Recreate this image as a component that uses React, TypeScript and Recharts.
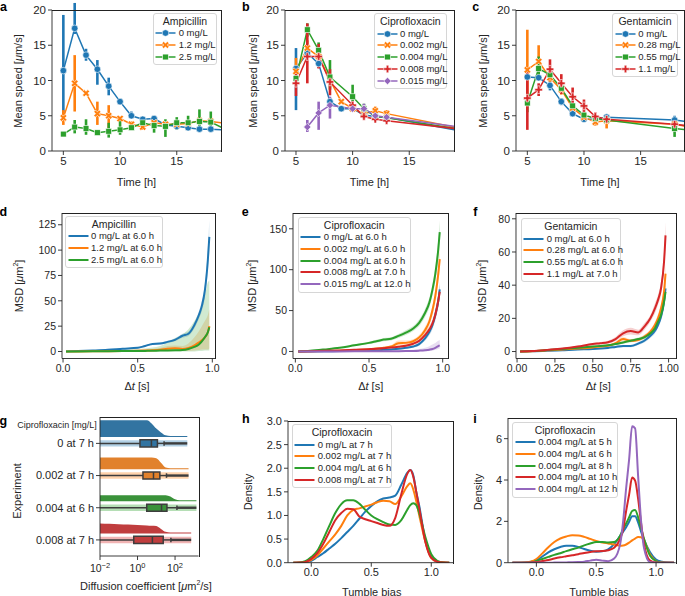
import React from "react";
import {
  Area,
  ComposedChart,
  ErrorBar,
  Line,
  ReferenceArea,
  ReferenceLine,
  XAxis,
  YAxis,
} from "recharts";

const FONT = '"Liberation Sans", Arial, Helvetica, sans-serif';
const INK = "#262626";
const BLUE = "#1f77b4";
const ORANGE = "#ff7f0e";
const GREEN = "#2ca02c";
const RED = "#d62728";
const PURPLE = "#9467bd";

// ---- a-c: mean speed over time (hours), value + error bar bounds
const HOURS_A = [5, 6, 7, 8, 9, 10, 11, 12, 13, 14, 15, 16, 17, 18, 19];
const AMP_0 = [11.4, 17.4, 13.6, 11.6, 9.2, 7.0, 5.0, 4.5, 4.6, 3.7, 3.5, 3.3, 3.1, 3.1, 3.0];
const AMP_0_LO = [5.2, 16.6, 12.8, 9.4, 7.9, 6.6, 4.6, 4.2, 4.3, 3.4, 3.2, 3.0, 2.9, 2.9, null];
const AMP_0_HI = [19.3, 21.0, 14.5, 12.9, 10.4, 7.4, 5.6, 4.8, 4.9, 4.0, 3.9, 3.6, 3.3, 3.3, null];
const AMP_1 = [4.7, 9.6, 8.2, 5.3, 5.0, 4.6, 3.8, 3.4, 4.0, 3.8, 3.8, 3.9, 4.3, 4.2, 4.0];
const AMP_1_LO = [3.7, 5.6, 7.9, 3.7, 3.2, 4.4, 3.5, 3.0, 3.7, 3.5, 3.5, 3.6, 3.9, 3.9, null];
const AMP_1_HI = [5.8, 13.6, 8.5, 7.0, 6.5, 4.9, 4.2, 3.8, 4.3, 4.1, 4.2, 4.3, 4.8, 4.6, null];
const AMP_2 = [2.4, 3.4, 3.2, 2.6, 2.8, 3.0, 3.3, 4.0, 3.6, 3.5, 4.0, 4.0, 4.2, 4.1, 3.3];
const AMP_2_LO = [2.2, 2.5, 2.3, 2.3, 1.9, 2.3, 3.0, 3.3, 2.6, 2.0, 3.0, 3.0, 3.0, 3.2, null];
const AMP_2_HI = [2.6, 4.4, 4.5, 2.9, 4.0, 4.6, 3.6, 4.8, 4.5, 4.5, 4.8, 5.0, 5.9, 5.6, null];

const HOURS_B = [5, 6, 7, 8, 9, 10, 11, 12, 13, 19];
const CIP_0 = [11.7, 13.9, 12.4, 7.0, 6.0, 6.0, 5.1, 4.9, 4.8, 3.0];
const CIP_0_LO = [5.8, 13.3, 11.8, 6.5, 5.8, 5.6, 4.8, 4.6, 4.5, null];
const CIP_0_HI = [14.6, 14.5, 13.0, 7.5, 6.2, 6.4, 5.4, 5.2, 5.1, null];
const CIP_1 = [11.3, 14.6, 13.4, 10.1, 7.0, 6.0, 5.3, 5.7, 5.3, 3.4];
const CIP_1_LO = [9.3, 13.5, 12.6, 9.3, 6.7, 5.6, 5.0, 5.1, 4.9, null];
const CIP_1_HI = [13.2, 15.7, 14.2, 11.0, 7.3, 6.4, 5.7, 6.3, 5.8, null];
const CIP_2 = [10.3, 17.2, 14.3, 10.5, null, 7.7, 6.0, 4.9, 4.7, 3.2];
const CIP_2_LO = [9.8, 16.2, 13.2, 8.7, null, 6.4, 5.3, 4.6, 4.4, null];
const CIP_2_HI = [10.8, 18.1, 15.4, 12.9, null, 9.4, 6.7, 5.2, 5.0, null];
const CIP_3 = [9.6, 13.4, 13.4, 9.8, null, 6.5, 4.9, 4.5, 4.3, 3.2];
const CIP_3_LO = [7.8, 9.6, 11.7, 7.9, null, 5.9, 4.6, 4.2, 4.0, null];
const CIP_3_HI = [11.4, 18.1, 15.2, 11.6, null, 7.1, 5.2, 4.8, 4.6, null];
const CIP_4 = [null, 3.4, 5.4, 6.5, null, 6.0, 6.0, 5.0, 4.8, 3.5];
const CIP_4_LO = [null, 2.7, 3.0, 4.6, null, 5.6, 5.4, 4.7, 4.5, null];
const CIP_4_HI = [null, 4.4, 7.0, 7.7, null, 6.4, 6.7, 5.3, 5.1, null];

const HOURS_C = [5, 6, 7, 8, 9, 10, 11, 12, 18, 19];
const GEN_0 = [10.5, 10.4, 9.3, 7.0, 5.3, 4.5, 4.5, 4.8, 4.4, 4.2];
const GEN_0_LO = [10.2, 10.0, 8.6, 6.5, 4.9, 4.2, 4.2, 4.5, 3.9, null];
const GEN_0_HI = [10.8, 10.8, 10.0, 7.5, 5.7, 4.8, 4.8, 5.1, 5.0, null];
const GEN_1 = [11.5, 12.7, 10.4, 8.7, 6.1, 4.8, 4.1, 4.3, 3.8, 3.5];
const GEN_1_LO = [6.3, 10.5, 9.8, 8.0, 5.6, 4.5, 3.6, 3.2, 3.4, null];
const GEN_1_HI = [17.2, 15.0, 11.0, 9.4, 6.6, 5.1, 4.6, 5.2, 4.2, null];
const GEN_2 = [6.8, 11.7, 10.8, 8.9, 6.4, 5.1, 4.6, 4.4, 3.2, 3.0];
const GEN_2_LO = [5.5, 10.0, 10.3, 8.4, 6.0, 4.8, 4.3, 4.1, 2.0, null];
const GEN_2_HI = [8.1, 13.4, 11.3, 9.4, 6.8, 5.4, 4.9, 4.7, 4.6, null];
const GEN_3 = [7.5, 8.7, 11.6, 9.6, 7.7, 6.4, 4.9, 4.5, 3.8, 3.6];
const GEN_3_LO = [3.0, 7.8, 10.2, 8.1, 6.5, 5.5, 4.4, 4.0, 3.4, null];
const GEN_3_HI = [11.5, 9.6, 13.0, 10.9, 9.0, 7.3, 5.5, 5.0, 4.2, null];

// ---- d-f: MSD vs lag time, mean + confidence band
const LAG = [0.02, 0.1, 0.2, 0.3, 0.4, 0.5, 0.55, 0.6, 0.65, 0.7, 0.75, 0.8, 0.84, 0.88, 0.91, 0.93, 0.95, 0.97, 0.98];
const D_0 = [0, 0.4, 1.0, 1.7, 2.7, 3.6, 5.5, 7.5, 7.8, 9.5, 11.5, 15.5, 17.5, 26, 36, 45, 60, 90, 113];
const D_0_LO = [0, 0.3, 0.8, 1.4, 2.3, 3.0, 4.7, 6.5, 6.8, 8.4, 10.0, 13.5, 15.3, 23, 32, 40, 53, 80, 98];
const D_0_HI = [0, 0.5, 1.2, 2.0, 3.1, 4.2, 6.3, 8.5, 8.8, 10.6, 13.0, 17.5, 19.7, 29, 40, 50, 67, 102, 130];
const D_1 = [0, 0.1, 0.2, 0.3, 0.5, 0.8, 1.0, 1.3, 1.8, 2.8, 3.2, 2.5, 3.5, 6, 9, 11, 14, 19, 25];
const D_1_LO = [0, 0, 0, 0, 0.1, 0.2, 0.3, 0.4, 0.5, 0.6, 0.7, 0.5, 0.5, 1, 1.5, 2, 2, 2, 3];
const D_1_HI = [0, 0.3, 0.5, 0.8, 1.2, 1.6, 2.0, 2.5, 3.5, 5.5, 6.0, 5.5, 8, 14, 20, 25, 30, 36, 42];
const D_2 = [0, 0.1, 0.2, 0.3, 0.4, 0.5, 0.6, 0.7, 0.9, 1.0, 1.2, 1.5, 2.5, 4.5, 7, 10, 14, 19, 24];
const D_2_LO = [0, 0, 0, 0, 0, 0, 0, 0, 0, 0, 0, 0, 0, 0, 0.5, 0.5, 1, 1, 1];
const D_2_HI = [0, 0.5, 1.0, 1.5, 2.0, 2.5, 3.0, 4.0, 5.5, 9, 13, 17, 22, 30, 38, 45, 55, 68, 70];

const E_0 = [0, 0.1, 0.3, 0.5, 0.8, 1.2, 1.5, 2.0, 2.5, 3.2, 4.5, 6.0, 9, 16, 24, 32, 45, 62, 76];
const E_0_LO = [0, 0, 0.2, 0.3, 0.5, 0.8, 1.0, 1.4, 1.8, 2.4, 3.4, 4.6, 7, 13, 20, 27, 38, 54, 66];
const E_0_HI = [0, 0.2, 0.4, 0.7, 1.1, 1.6, 2.0, 2.6, 3.2, 4.0, 5.6, 7.4, 11, 19, 28, 37, 52, 70, 86];
const E_1 = [0, 0.2, 0.6, 1.0, 1.8, 2.8, 3.5, 4.5, 6.0, 10.0, 10.5, 12.5, 17, 26, 37, 50, 68, 95, 113];
const E_1_LO = [0, 0.1, 0.4, 0.7, 1.3, 2.0, 2.6, 3.3, 4.5, 6.5, 8.0, 10.0, 14, 22, 32, 44, 60, 85, 100];
const E_1_HI = [0, 0.3, 0.8, 1.3, 2.3, 3.6, 4.4, 5.8, 7.8, 13.5, 13.5, 15, 20, 30, 42, 56, 76, 106, 128];
const E_2 = [0, 0.8, 2.5, 4.5, 7.5, 10.5, 12.5, 14.5, 15.5, 19, 23, 28, 35, 47, 60, 75, 95, 125, 146];
const E_2_LO = [0, 0.6, 2.0, 3.8, 6.5, 9.0, 10.8, 12.5, 13.5, 16.5, 20, 25, 31, 42, 54, 68, 86, 113, 132];
const E_2_HI = [0, 1.0, 3.0, 5.2, 8.5, 12.0, 14.2, 16.5, 17.5, 21.5, 26, 31, 39, 52, 66, 82, 104, 137, 160];
const E_3 = [0, 0.3, 0.8, 1.3, 2.0, 2.8, 3.3, 4.0, 4.8, 5.8, 7.0, 9.5, 13, 20, 27, 34, 45, 62, 73];
const E_3_LO = [0, 0.2, 0.6, 1.0, 1.6, 2.3, 2.7, 3.3, 4.0, 4.8, 5.8, 8.0, 11, 17, 23, 29, 39, 54, 64];
const E_3_HI = [0, 0.4, 1.0, 1.6, 2.4, 3.3, 3.9, 4.7, 5.6, 6.8, 8.2, 11.0, 15, 23, 31, 39, 51, 70, 82];
const E_4 = [0, 0, 0.05, 0.1, 0.15, 0.2, 0.25, 0.3, 0.35, 0.4, 0.5, 0.7, 1.0, 1.5, 2.2, 3.0, 4.5, 6.5, 7.5];
const E_4_LO = [0, 0, 0, 0, 0, 0, 0, 0, 0, 0, 0, 0, 0, 0.3, 0.7, 1.0, 2.0, 3.0, 3.5];
const E_4_HI = [0, 0.1, 0.2, 0.3, 0.4, 0.5, 0.6, 0.7, 0.9, 1.1, 1.5, 2.0, 3.0, 4.5, 6.5, 8.5, 10.5, 13, 14];

const F_0 = [0, 0.1, 0.4, 0.8, 1.2, 1.5, 1.8, 2.2, 2.8, 3.3, 3.3, 4.8, 6.5, 9.5, 12.5, 16, 21, 30, 38];
const F_0_LO = [0, 0, 0.3, 0.6, 0.9, 1.1, 1.4, 1.7, 2.2, 2.6, 2.6, 3.9, 5.4, 8.2, 10.8, 14, 18.5, 26.5, 34];
const F_0_HI = [0, 0.2, 0.5, 1.0, 1.5, 1.9, 2.2, 2.7, 3.4, 4.0, 4.0, 5.7, 7.6, 10.8, 14.2, 18, 23.5, 33.5, 42];
const F_1 = [0, 0.2, 0.7, 1.2, 1.8, 2.5, 3.0, 3.5, 5.0, 7.5, 6.5, 7.0, 9, 12, 16, 20, 26, 36, 47];
const F_1_LO = [0, 0.1, 0.5, 1.0, 1.5, 2.1, 2.5, 3.0, 4.2, 6.3, 5.6, 6.0, 7.8, 10.5, 14, 17.5, 23, 32, 42];
const F_1_HI = [0, 0.3, 0.9, 1.4, 2.1, 2.9, 3.5, 4.0, 5.8, 8.7, 7.4, 8.0, 10.2, 13.5, 18, 22.5, 29, 40, 53];
const F_2 = [0, 0.3, 0.9, 1.5, 2.3, 3.0, 3.4, 3.8, 4.5, 5.5, 6.5, 7.5, 8.5, 11, 14, 18, 22, 30, 36];
const F_2_LO = [0, 0.2, 0.7, 1.2, 1.9, 2.5, 2.9, 3.2, 3.8, 4.7, 5.6, 6.5, 7.4, 9.6, 12.3, 15.8, 19.5, 27, 32];
const F_2_HI = [0, 0.4, 1.1, 1.8, 2.7, 3.5, 3.9, 4.4, 5.2, 6.3, 7.4, 8.5, 9.6, 12.4, 15.7, 20.2, 24.5, 33, 40];
const F_3 = [0, 0.3, 1.0, 1.8, 3.0, 4.5, 5.0, 5.6, 7.5, 11, 12.3, 11.5, 15, 20, 26, 31, 38, 54, 70];
const F_3_LO = [0, 0.2, 0.8, 1.5, 2.5, 3.8, 4.2, 4.7, 6.2, 9.2, 10.3, 9.8, 13, 18, 23, 28, 34, 49, 62];
const F_3_HI = [0, 0.4, 1.2, 2.1, 3.5, 5.2, 5.8, 6.5, 8.8, 12.8, 14.3, 13.2, 17, 22, 29, 34, 42, 60, 78];

// ---- g: diffusion coefficient raincloud (um^2/s, log axis)
const G_LABELS = ["0 at 7 h", "0.002 at 7 h", "0.004 at 6 h", "0.008 at 7 h"];
const G_D = [0.01, 0.0316, 0.1, 0.316, 1, 3.16, 5.62, 10, 17.8, 31.6, 56.2, 100, 178, 316, 450, 525, 725, 1000, 1380];
const G_VIOLIN = [
  [0.52, 0.52, 0.52, 0.52, 0.52, 0.52, 0.42, 0.26, 0.14, 0.05, 0.03, 0.03, 0.03, 0.03, 0.03, null, null, null, null],
  [0.36, 0.36, 0.36, 0.36, 0.36, 0.36, 0.36, 0.34, 0.2, 0.05, 0.03, 0.03, 0.03, 0.03, 0.03, 0.03, null, null, null],
  [0.19, 0.19, 0.19, 0.19, 0.19, 0.19, 0.19, 0.19, 0.19, 0.19, 0.15, 0.06, 0.03, 0.03, 0.03, 0.03, 0.03, 0.03, 0.03],
  [0.31, 0.3, 0.29, 0.28, 0.26, 0.25, 0.24, 0.23, 0.14, 0.05, 0.03, 0.03, 0.03, 0.03, 0.03, 0.03, 0.03, null, null],
];
const G_Q1 = [1.35, 1.95, 3.1, 0.63];
const G_MED = [5.5, 7.1, 19, 6.2];
const G_Q3 = [11.5, 15.5, 37, 23.4];
const G_CAP = [26, 35, 126, 60];
const G_MAX = [447, 525, 1380, 724];
const G_FILL = ["#3274a1", "#e1812c", "#3a923a", "#c03d3e"];
const G_DOT = [BLUE, ORANGE, GREEN, RED];

// ---- h, i: tumble bias densities
const H_X = [-0.15, -0.1, -0.05, 0, 0.05, 0.1, 0.15, 0.2, 0.25, 0.3, 0.35, 0.4, 0.45, 0.5, 0.55, 0.6, 0.65, 0.7, 0.75, 0.8, 0.825, 0.85, 0.875, 0.9, 0.95, 1.0, 1.05, 1.1, 1.15];
const H_0 = [0, 0, 0.005, 0.04, 0.12, 0.2, 0.3, 0.4, 0.52, 0.65, 0.78, 0.93, 1.08, 1.2, 1.3, 1.36, 1.38, 1.42, 1.65, 1.9, 1.96, 1.85, 1.5, 1.2, 0.48, 0.12, 0.02, 0.003, 0];
const H_1 = [0, 0, 0.01, 0.06, 0.15, 0.3, 0.45, 0.6, 0.78, 1.0, 1.12, 1.15, 1.19, 1.23, 1.28, 1.31, 1.3, 1.24, 1.4, 1.62, 1.68, 1.55, 1.3, 1.0, 0.45, 0.1, 0.02, 0.003, 0];
const H_2 = [0, 0.005, 0.03, 0.12, 0.25, 0.5, 0.78, 1.05, 1.24, 1.32, 1.32, 1.25, 1.12, 1.0, 0.92, 0.86, 0.81, 0.8, 0.9, 1.12, 1.22, 1.26, 1.22, 1.05, 0.55, 0.18, 0.04, 0.005, 0];
const H_3 = [0, 0.002, 0.015, 0.08, 0.2, 0.4, 0.65, 0.9, 1.05, 1.14, 1.13, 0.98, 0.92, 0.88, 0.84, 0.8, 0.78, 0.95, 1.45, 1.88, 1.96, 1.82, 1.5, 1.15, 0.45, 0.1, 0.02, 0.003, 0];

const I_X = [-0.2, -0.15, -0.1, -0.05, 0, 0.05, 0.1, 0.15, 0.2, 0.25, 0.3, 0.35, 0.4, 0.45, 0.5, 0.55, 0.6, 0.65, 0.7, 0.725, 0.75, 0.775, 0.8, 0.825, 0.85, 0.875, 0.9, 0.95, 1.0, 1.05, 1.1, 1.15];
const I_5 = [0, 0, 0.01, 0.04, 0.12, 0.3, 0.5, 0.65, 0.76, 0.82, 0.82, 0.76, 0.66, 0.58, 0.53, 0.55, 0.65, 0.9, 1.3, 1.5, 1.72, 1.98, 2.25, 2.25, 1.95, 1.5, 1.1, 0.5, 0.15, 0.05, 0.01, 0];
const I_6 = [0, 0, 0.005, 0.05, 0.18, 0.45, 0.75, 1.0, 1.17, 1.27, 1.33, 1.32, 1.25, 1.15, 1.05, 0.98, 0.93, 0.88, 0.82, 0.83, 0.88, 0.97, 1.08, 1.17, 1.24, 1.23, 1.05, 0.4, 0.08, 0.005, 0, 0];
const I_8 = [0, 0, 0, 0.01, 0.08, 0.18, 0.28, 0.38, 0.46, 0.56, 0.65, 0.73, 0.84, 0.93, 1.0, 1.0, 0.98, 1.0, 1.3, 1.65, 1.9, 2.2, 2.5, 2.55, 2.2, 1.65, 1.15, 0.33, 0.08, 0.01, 0, 0];
const I_10 = [0, 0, 0, 0.005, 0.03, 0.08, 0.13, 0.2, 0.26, 0.31, 0.36, 0.41, 0.47, 0.52, 0.55, 0.56, 0.6, 0.72, 1.15, 1.6, 2.5, 3.3, 4.12, 3.97, 3.1, 1.9, 0.9, 0.1, 0.01, 0, 0, 0];
const I_12 = [0, 0, 0, 0, 0, 0, 0, 0.005, 0.01, 0.015, 0.02, 0.03, 0.05, 0.1, 0.14, 0.1, 0.07, 0.2, 0.9, 2.0, 3.6, 5.0, 6.6, 6.5, 4.2, 2.0, 0.7, 0.02, 0, 0, 0, 0];

type Shape = "o" | "x" | "s" | "p" | "d";
type Box = { l: number; t: number; r: number; b: number };
type Series = { label: string; color: string; marker?: Shape };

const PAD_T = 8;
const PAD_R = 8;
const PAD_B = 30;

// plot-area boxes of the nine panels (page pixels)
const BOX_A: Box = { l: 52, t: 10, r: 221, b: 151 };
const BOX_B: Box = { l: 285, t: 10, r: 454, b: 151 };
const BOX_C: Box = { l: 516, t: 10, r: 684, b: 151 };
const BOX_D: Box = { l: 62, t: 212.5, r: 215, b: 358 };
const BOX_E: Box = { l: 293.3, t: 212.5, r: 448.3, b: 358 };
const BOX_F: Box = { l: 515.7, t: 212.5, r: 676, b: 358 };
const BOX_G: Box = { l: 100, t: 417, r: 198.5, b: 556 };
const BOX_H: Box = { l: 287.7, t: 421, r: 453.3, b: 562.7 };
const BOX_I: Box = { l: 508.3, t: 418, r: 676, b: 562.7 };

const Marker = ({ shape, cx, cy, color }: { shape: Shape; cx: number; cy: number; color: string }) => {
  const edge = { stroke: "#fff", strokeWidth: 0.6 };
  if (shape === "o") return <circle cx={cx} cy={cy} r={3.3} fill={color} {...edge} />;
  if (shape === "s") return <rect x={cx - 2.9} y={cy - 2.9} width={5.8} height={5.8} fill={color} {...edge} />;
  if (shape === "d")
    return <rect x={cx - 2.6} y={cy - 2.6} width={5.2} height={5.2} fill={color} transform={`rotate(45 ${cx} ${cy})`} {...edge} />;
  const a = 1.25;
  const b = 3.8;
  const pts = [[-a, -b], [a, -b], [a, -a], [b, -a], [b, a], [a, a], [a, b], [-a, b], [-a, a], [-b, a], [-b, -a], [-a, -a]]
    .map(([px, py]) => `${cx + px},${cy + py}`)
    .join(" ");
  return <polygon points={pts} fill={color} transform={shape === "x" ? `rotate(45 ${cx} ${cy})` : undefined} {...edge} />;
};

const dotFor = (shape: Shape, color: string, xMax: number) => (p: any) => {
  const { cx, cy, payload, index, value } = p;
  if (cx == null || cy == null || value == null || payload.x > xMax) return <g key={`m-${index}`} />;
  return <Marker key={`m-${index}`} shape={shape} cx={cx} cy={cy} color={color} />;
};

const fmt = (d: number) => (v: number) => v.toFixed(d);

function axes(o: {
  xDomain: number[];
  yDomain: number[];
  xTicks: number[];
  yTicks: number[];
  padL: number;
  fs: number;
  xFmt?: (v: number) => string;
  yFmt?: (v: any) => string;
  xScale?: any;
  yReversed?: boolean;
  xTick?: any;
}) {
  const tickStyle = { fontSize: o.fs, fill: INK, fontFamily: FONT };
  const line = { stroke: INK, strokeWidth: 0.9 };
  return [
    <XAxis key="xb" dataKey="x" type="number" scale={o.xScale ?? "auto"} domain={o.xDomain} ticks={o.xTicks} interval={0}
      allowDataOverflow tickFormatter={o.xFmt} tick={o.xTick ?? tickStyle} tickLine={line} axisLine={line}
      tickSize={4} tickMargin={2} height={PAD_B} />,
    <YAxis key="yl" type="number" domain={o.yDomain} ticks={o.yTicks} interval={0} allowDataOverflow reversed={o.yReversed}
      tickFormatter={o.yFmt} tick={tickStyle} tickLine={line} axisLine={line}
      tickSize={4} tickMargin={2} width={o.padL} />,
  ];
}

// places a chart so that its plot area lands on the given box
const Panel = ({ box, padL, children }: { box: Box; padL: number; children: (w: number, h: number, m: any) => any }) => {
  const w = box.r - box.l + padL + PAD_R;
  const h = box.b - box.t + PAD_T + PAD_B;
  return (
    <div style={{ position: "absolute", left: box.l - padL, top: box.t - PAD_T, width: w, height: h }}>
      {children(w, h, { top: PAD_T, right: PAD_R, bottom: 0, left: 0 })}
    </div>
  );
};

// top and right spines, drawn as 1px strips over the page
const Spines = ({ box }: { box: Box }) => {
  const l = Math.round(box.l);
  const t = Math.round(box.t);
  const r = Math.round(box.r);
  const b = Math.round(box.b);
  const s = { position: "absolute" as const, background: "#222", zIndex: 4 };
  return (
    <>
      <div style={{ ...s, left: l, top: t, width: r - l + 1, height: 1 }} />
      <div style={{ ...s, left: r, top: t, width: 1, height: b - t + 1 }} />
    </>
  );
};

const speedRows = (hours: number[], vals: any[][]) =>
  hours.map((x, i) => {
    const row: any = { x };
    vals.forEach(([v, lo, hi], k) => {
      row[`v${k}`] = v[i];
      row[`e${k}`] = v[i] == null || lo[i] == null || hi[i] == null ? undefined : [v[i] - lo[i], hi[i] - v[i]];
    });
    return row;
  });

const SpeedPanel = ({ box, xDomain, rows, series }: { box: Box; xDomain: number[]; rows: any[]; series: Series[] }) => (
  <Panel box={box} padL={60}>
    {(w, h, m) => (
      <ComposedChart width={w} height={h} data={rows} margin={m}>
        {axes({ xDomain, yDomain: [0, 20], xTicks: [5, 10, 15], yTicks: [0, 5, 10, 15, 20], padL: 60, fs: 11.5 })}
        {series.map((s, k) => (
          <Line key={k} dataKey={`v${k}`} stroke={s.color} strokeWidth={1.5} connectNulls activeDot={false}
            dot={dotFor(s.marker as Shape, s.color, xDomain[1])} isAnimationActive={false}>
            <ErrorBar dataKey={`e${k}`} width={0} strokeWidth={2.6} stroke={s.color} direction="y" isAnimationActive={false} />
          </Line>
        ))}
      </ComposedChart>
    )}
  </Panel>
);

const msdRows = (vals: number[][][]) =>
  LAG.map((x, i) => {
    const row: any = { x };
    vals.forEach(([v, lo, hi], k) => {
      row[`v${k}`] = v[i];
      row[`band${k}`] = [lo[i], hi[i]];
    });
    return row;
  });

const CurvePanel = (props: {
  box: Box; xDomain: number[]; yDomain: number[]; xTicks: number[]; yTicks: number[]; fs: number;
  xFmt: (v: number) => string; yFmt?: (v: number) => string; rows: any[]; series: Series[]; bands?: boolean;
}) => (
  <Panel box={props.box} padL={60}>
    {(w, h, m) => (
      <ComposedChart width={w} height={h} data={props.rows} margin={m}>
        {axes({ xDomain: props.xDomain, yDomain: props.yDomain, xTicks: props.xTicks, yTicks: props.yTicks,
          padL: 60, fs: props.fs, xFmt: props.xFmt, yFmt: props.yFmt })}
        {props.bands &&
          props.series.map((s, k) => (
            <Area key={`a${k}`} dataKey={`band${k}`} type="monotone" stroke="none" fill={s.color} fillOpacity={0.22}
              activeDot={false} isAnimationActive={false} />
          ))}
        {props.series.map((s, k) => (
          <Line key={`l${k}`} dataKey={`v${k}`} type="monotone" stroke={s.color} strokeWidth={2} dot={false}
            activeDot={false} isAnimationActive={false} />
        ))}
      </ComposedChart>
    )}
  </Panel>
);

const PowTick = (p: any) => {
  const { x, y, payload } = p;
  const e = Math.round(Math.log10(payload.value));
  return (
    <text x={x} y={y + 10} textAnchor="middle" fontSize={10.5} fill={INK} fontFamily={FONT}>
      10
      <tspan dy={-4.5} fontSize={7.5}>{e < 0 ? `\u2212${-e}` : `${e}`}</tspan>
    </text>
  );
};

const RainPanel = ({ box }: { box: Box }) => {
  const rows = G_D.map((x, i) => {
    const row: any = { x };
    G_VIOLIN.forEach((h, k) => {
      const base = k - 0.2;
      row[`v${k}`] = h[i] == null ? null : [base, base - (h[i] as number)];
      row[`s${k}`] = h[i] == null ? null : [k - 0.1, k + 0.1];
    });
    return row;
  });
  const dark = "#3d3d3d";
  return (
    <Panel box={box} padL={100}>
      {(w, h, m) => (
        <ComposedChart width={w} height={h} data={rows} margin={m}>
          {axes({ xDomain: [0.01, 1778], yDomain: [-0.82, 3.5], xTicks: [0.01, 1, 100], yTicks: [0, 1, 2, 3],
            padL: 100, fs: 11, xScale: "log", yReversed: true, xTick: <PowTick />, yFmt: (v: number) => G_LABELS[v] })}
          {G_FILL.map((c, k) => (
            <Area key={`v${k}`} dataKey={`v${k}`} type="monotone" stroke="none" fill={c} fillOpacity={1}
              activeDot={false} isAnimationActive={false} />
          ))}
          {G_DOT.map((c, k) => (
            <Area key={`s${k}`} dataKey={`s${k}`} type="linear" stroke="none" fill={c} fillOpacity={0.35}
              activeDot={false} isAnimationActive={false} />
          ))}
          {G_FILL.map((c, k) => [
            <ReferenceLine key={`wl${k}`} segment={[{ x: 0.01, y: k }, { x: G_Q1[k], y: k }]} stroke={dark} strokeWidth={1.5} ifOverflow="visible" />,
            <ReferenceLine key={`wr${k}`} segment={[{ x: G_Q3[k], y: k }, { x: G_CAP[k], y: k }]} stroke={dark} strokeWidth={1.5} ifOverflow="visible" />,
            <ReferenceLine key={`fl${k}`} segment={[{ x: G_CAP[k], y: k }, { x: G_MAX[k], y: k }]} stroke={dark} strokeWidth={2.4} ifOverflow="visible" />,
            <ReferenceLine key={`cp${k}`} segment={[{ x: G_CAP[k], y: k - 0.07 }, { x: G_CAP[k], y: k + 0.07 }]} stroke={dark} strokeWidth={1.5} ifOverflow="visible" />,
            <ReferenceArea key={`bx${k}`} x1={G_Q1[k]} x2={G_Q3[k]} y1={k - 0.11} y2={k + 0.11} fill={c} fillOpacity={1}
              stroke={dark} strokeWidth={1.5} ifOverflow="visible" />,
            <ReferenceLine key={`md${k}`} segment={[{ x: G_MED[k], y: k - 0.11 }, { x: G_MED[k], y: k + 0.11 }]} stroke={dark} strokeWidth={1.5} ifOverflow="visible" />,
          ])}
        </ComposedChart>
      )}
    </Panel>
  );
};

const Txt = ({ x, y, size = 11, rotate = false, bold = false, children }: any) => (
  <div style={{ position: "absolute", left: x, top: y, transform: `translate(-50%, -50%)${rotate ? " rotate(-90deg)" : ""}`,
    whiteSpace: "nowrap", fontSize: size, lineHeight: 1, fontFamily: FONT, color: bold ? "#000" : INK, fontWeight: bold ? 700 : 400 }}>
    {children}
  </div>
);

const LegendBox = ({ x, y, w, title, items, lw = 2 }: { x: number; y: number; w: number; title: string; items: Series[]; lw?: number }) => (
  <div style={{ position: "absolute", left: x, top: y, width: w, height: 17 + items.length * 11.8, boxSizing: "border-box", zIndex: 5,
    border: "1px solid #d6d6d6", borderRadius: 3, background: "rgba(255,255,255,0.85)", fontFamily: FONT, color: INK }}>
    <div style={{ position: "absolute", left: 0, right: 0, top: 2, textAlign: "center", fontSize: 10.5, lineHeight: "11px" }}>{title}</div>
    {items.map((it, i) => (
      <div key={i} style={{ position: "absolute", left: 1.5, top: 13.4 + i * 11.8, height: 12, display: "flex", alignItems: "center" }}>
        <svg width={21} height={12} style={{ display: "block" }}>
          <line x1={0.5} x2={20.5} y1={6} y2={6} stroke={it.color} strokeWidth={lw} />
          {it.marker && <Marker shape={it.marker} cx={10.5} cy={6} color={it.color} />}
        </svg>
        <span style={{ fontSize: 9.5, marginLeft: 2.5, whiteSpace: "nowrap", lineHeight: "12px" }}>{it.label}</span>
      </div>
    ))}
  </div>
);

const AMP_SERIES: Series[] = [
  { label: "0 mg/L", color: BLUE, marker: "o" },
  { label: "1.2 mg/L", color: ORANGE, marker: "x" },
  { label: "2.5 mg/L", color: GREEN, marker: "s" },
];
const CIP_SERIES: Series[] = [
  { label: "0 mg/L", color: BLUE, marker: "o" },
  { label: "0.002 mg/L", color: ORANGE, marker: "x" },
  { label: "0.004 mg/L", color: GREEN, marker: "s" },
  { label: "0.008 mg/L", color: RED, marker: "p" },
  { label: "0.015 mg/L", color: PURPLE, marker: "d" },
];
const GEN_SERIES: Series[] = [
  { label: "0 mg/L", color: BLUE, marker: "o" },
  { label: "0.28 mg/L", color: ORANGE, marker: "x" },
  { label: "0.55 mg/L", color: GREEN, marker: "s" },
  { label: "1.1 mg/L", color: RED, marker: "p" },
];
const D_SERIES: Series[] = [
  { label: "0 mg/L at 6.0 h", color: BLUE },
  { label: "1.2 mg/L at 6.0 h", color: ORANGE },
  { label: "2.5 mg/L at 6.0 h", color: GREEN },
];
const E_SERIES: Series[] = [
  { label: "0 mg/L at 6.0 h", color: BLUE },
  { label: "0.002 mg/L at 6.0 h", color: ORANGE },
  { label: "0.004 mg/L at 6.0 h", color: GREEN },
  { label: "0.008 mg/L at 7.0 h", color: RED },
  { label: "0.015 mg/L at 12.0 h", color: PURPLE },
];
const F_SERIES: Series[] = [
  { label: "0 mg/L at 6.0 h", color: BLUE },
  { label: "0.28 mg/L at 6.0 h", color: ORANGE },
  { label: "0.55 mg/L at 6.0 h", color: GREEN },
  { label: "1.1 mg/L at 7.0 h", color: RED },
];
const H_SERIES: Series[] = [
  { label: "0 mg/L at 7 h", color: BLUE },
  { label: "0.002 mg/L at 7 h", color: ORANGE },
  { label: "0.004 mg/L at 6 h", color: GREEN },
  { label: "0.008 mg/L at 7 h", color: RED },
];
const I_SERIES: Series[] = [
  { label: "0.004 mg/L at 5 h", color: BLUE },
  { label: "0.004 mg/L at 6 h", color: ORANGE },
  { label: "0.004 mg/L at 8 h", color: GREEN },
  { label: "0.004 mg/L at 10 h", color: RED },
  { label: "0.004 mg/L at 12 h", color: PURPLE },
];

const densityRows = (xs: number[], vals: number[][]) =>
  xs.map((x, i) => {
    const row: any = { x };
    vals.forEach((v, k) => (row[`v${k}`] = v[i]));
    return row;
  });

const MU = <i>μ</i>;

export default function App() {
  const rowsA = speedRows(HOURS_A, [[AMP_0, AMP_0_LO, AMP_0_HI], [AMP_1, AMP_1_LO, AMP_1_HI], [AMP_2, AMP_2_LO, AMP_2_HI]]);
  const rowsB = speedRows(HOURS_B, [[CIP_0, CIP_0_LO, CIP_0_HI], [CIP_1, CIP_1_LO, CIP_1_HI], [CIP_2, CIP_2_LO, CIP_2_HI],
    [CIP_3, CIP_3_LO, CIP_3_HI], [CIP_4, CIP_4_LO, CIP_4_HI]]);
  const rowsC = speedRows(HOURS_C, [[GEN_0, GEN_0_LO, GEN_0_HI], [GEN_1, GEN_1_LO, GEN_1_HI], [GEN_2, GEN_2_LO, GEN_2_HI],
    [GEN_3, GEN_3_LO, GEN_3_HI]]);
  const rowsD = msdRows([[D_0, D_0_LO, D_0_HI], [D_1, D_1_LO, D_1_HI], [D_2, D_2_LO, D_2_HI]]);
  const rowsE = msdRows([[E_0, E_0_LO, E_0_HI], [E_1, E_1_LO, E_1_HI], [E_2, E_2_LO, E_2_HI], [E_3, E_3_LO, E_3_HI], [E_4, E_4_LO, E_4_HI]]);
  const rowsF = msdRows([[F_0, F_0_LO, F_0_HI], [F_1, F_1_LO, F_1_HI], [F_2, F_2_LO, F_2_HI], [F_3, F_3_LO, F_3_HI]]);
  const rowsH = densityRows(H_X, [H_0, H_1, H_2, H_3]);
  const rowsI = densityRows(I_X, [I_5, I_6, I_8, I_10, I_12]);

  const speedLabel = <span>Mean speed [{MU}m/s]</span>;
  const msdLabel = <span>MSD [{MU}m<sup style={{ fontSize: 7, lineHeight: 0 }}>2</sup>]</span>;
  const lagLabel = <span>Δ<i>t</i> [s]</span>;

  return (
    <div style={{ position: "absolute", left: 0, top: 0, width: 685, height: 596, background: "#fff", overflow: "hidden", fontFamily: FONT }}>
      <SpeedPanel box={BOX_A} xDomain={[4, 18.9]} rows={rowsA} series={AMP_SERIES} />
      <SpeedPanel box={BOX_B} xDomain={[4.03, 18.95]} rows={rowsB} series={CIP_SERIES} />
      <SpeedPanel box={BOX_C} xDomain={[4, 18.83]} rows={rowsC} series={GEN_SERIES} />

      <CurvePanel box={BOX_D} xDomain={[-0.007, 1.018]} yDomain={[-6.9, 136.6]} fs={10.5}
        xTicks={[0, 0.5, 1]} yTicks={[0, 25, 50, 75, 100, 125]} xFmt={fmt(1)} rows={rowsD} series={D_SERIES} bands />
      <CurvePanel box={BOX_E} xDomain={[-0.016, 1.036]} yDomain={[-8.6, 169.3]} fs={10.5}
        xTicks={[0, 0.5, 1]} yTicks={[0, 50, 100, 150]} xFmt={fmt(1)} rows={rowsE} series={E_SERIES} bands />
      <CurvePanel box={BOX_F} xDomain={[-0.007, 1.051]} yDomain={[-4.2, 83.5]} fs={10.5}
        xTicks={[0, 0.25, 0.5, 0.75, 1]} yTicks={[0, 20, 40, 60, 80]} xFmt={fmt(2)} rows={rowsF} series={F_SERIES} bands />

      <RainPanel box={BOX_G} />
      <CurvePanel box={BOX_H} xDomain={[-0.194, 1.186]} yDomain={[0, 3]} fs={11}
        xTicks={[0, 0.5, 1]} yTicks={[0, 0.5, 1, 1.5, 2, 2.5, 3]} xFmt={fmt(1)} yFmt={fmt(1)} rows={rowsH} series={H_SERIES} />
      <CurvePanel box={BOX_I} xDomain={[-0.237, 1.164]} yDomain={[0, 7]} fs={11}
        xTicks={[0, 0.5, 1]} yTicks={[0, 2, 4, 6]} xFmt={fmt(1)} rows={rowsI} series={I_SERIES} />

      {[BOX_A, BOX_B, BOX_C, BOX_D, BOX_E, BOX_F, BOX_G, BOX_H, BOX_I].map((b, i) => (
        <Spines key={i} box={b} />
      ))}

      <LegendBox x={152.7} y={12.7} w={64.6} title="Ampicillin" items={AMP_SERIES} lw={1.5} />
      <LegendBox x={374} y={13.3} w={72.7} title="Ciprofloxacin" items={CIP_SERIES} lw={1.5} />
      <LegendBox x={612.3} y={13.3} w={65.4} title="Gentamicin" items={GEN_SERIES} lw={1.5} />
      <LegendBox x={65} y={215.7} w={97.7} title="Ampicillin" items={D_SERIES} />
      <LegendBox x={297.7} y={216.7} w={113} title="Ciprofloxacin" items={E_SERIES} />
      <LegendBox x={520.7} y={218.3} w={100.3} title="Gentamicin" items={F_SERIES} />
      <LegendBox x={291.7} y={424.3} w={100.6} title="Ciprofloxacin" items={H_SERIES} />
      <LegendBox x={512.3} y={421.7} w={105.4} title="Ciprofloxacin" items={I_SERIES} />

      <Txt x={18} y={80.5} rotate>{speedLabel}</Txt>
      <Txt x={253.3} y={80.5} rotate>{speedLabel}</Txt>
      <Txt x={483.3} y={80.5} rotate>{speedLabel}</Txt>
      <Txt x={136.5} y={181.7}>Time [h]</Txt>
      <Txt x={369.5} y={181.7}>Time [h]</Txt>
      <Txt x={600} y={181.7}>Time [h]</Txt>

      <Txt x={19} y={285.5} rotate>{msdLabel}</Txt>
      <Txt x={251.7} y={285.5} rotate>{msdLabel}</Txt>
      <Txt x={481.7} y={285.5} rotate>{msdLabel}</Txt>
      <Txt x={137} y={385.7}>{lagLabel}</Txt>
      <Txt x={370.7} y={385.7}>{lagLabel}</Txt>
      <Txt x={598.3} y={385.7}>{lagLabel}</Txt>

      <Txt x={16.7} y={490.8} rotate>Experiment</Txt>
      <Txt x={146} y={585.7}>Diffusion coefficient [{MU}m<sup style={{ fontSize: 7, lineHeight: 0 }}>2</sup>/s]</Txt>
      <div style={{ position: "absolute", right: 685 - 96.7, top: 420, fontSize: 9, lineHeight: "10px", fontFamily: FONT, color: INK, whiteSpace: "nowrap" }}>
        Ciprofloxacin [mg/L]
      </div>
      <Txt x={248.3} y={491.8} rotate>Density</Txt>
      <Txt x={478.3} y={491.8} rotate>Density</Txt>
      <Txt x={371.7} y={592}>Tumble bias</Txt>
      <Txt x={599} y={592}>Tumble bias</Txt>

      <Txt x={3.4} y={6.7} size={12.5} bold>a</Txt>
      <Txt x={245.8} y={7.3} size={12.5} bold>b</Txt>
      <Txt x={475.8} y={7.3} size={12.5} bold>c</Txt>
      <Txt x={3.4} y={212.4} size={12.5} bold>d</Txt>
      <Txt x={245.3} y={212.4} size={12.5} bold>e</Txt>
      <Txt x={475.3} y={212.4} size={12.5} bold>f</Txt>
      <Txt x={3.4} y={420.7} size={12.5} bold>g</Txt>
      <Txt x={245.8} y={419} size={12.5} bold>h</Txt>
      <Txt x={475} y={419} size={12.5} bold>i</Txt>
    </div>
  );
}
